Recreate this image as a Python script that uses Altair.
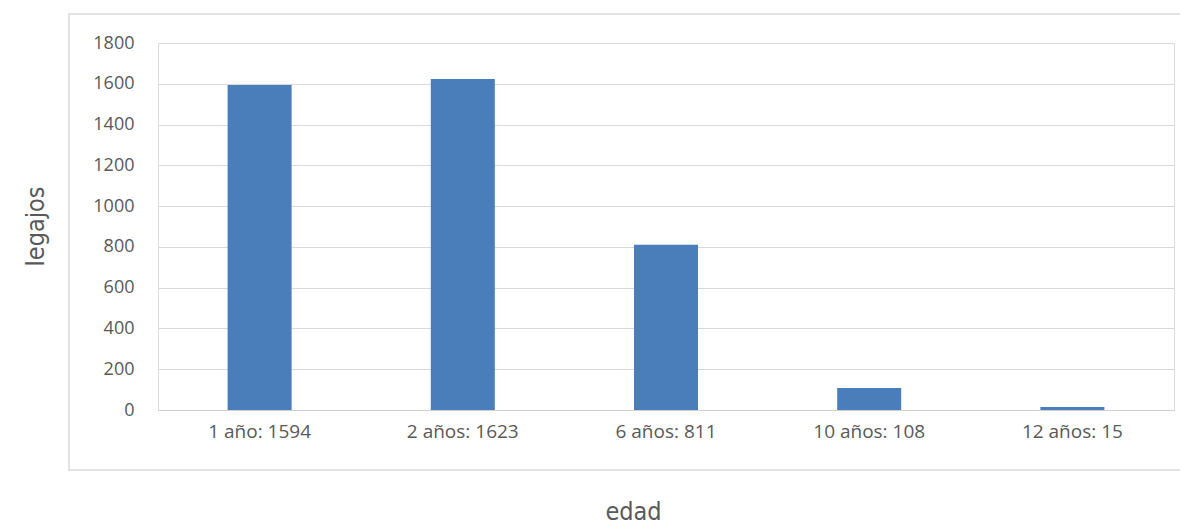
import altair as alt
import pandas as pd

categorias = ["1  año: 1594", "2 años: 1623", "6 años: 811", "10 años: 108", "12 años: 15"]
legajos = [1594, 1623, 811, 108, 15]

df = pd.DataFrame({"edad": categorias, "legajos": legajos})

W, H = 1016, 367
TFONT = "DejaVu Sans Condensed, Liberation Sans Narrow, Roboto, sans-serif"
LFONT = "Open Sans, Noto Sans, sans-serif"

frame = alt.Chart(pd.DataFrame({"k": [0]})).mark_rect(
    fill=None, stroke="#d9d9d9", strokeWidth=1.5
).encode(
    x=alt.value(-89), x2=alt.value(1040), y=alt.value(-29), y2=alt.value(427)
)

bars = alt.Chart(df).mark_bar(color="#4a7ebb").encode(
    x=alt.X("edad:N", sort=categorias,
            scale=alt.Scale(paddingInner=0.685, paddingOuter=0.3425),
            axis=alt.Axis(title="edad", labelAngle=0, labelFont=LFONT, labelFontSize=19,
                          labelColor="#595959", labelPadding=12, ticks=False,
                          domainColor="#d0d0d0", domainWidth=1.2,
                          titleFont=TFONT, titleFontSize=25, titleFontWeight="normal",
                          titleColor="#595959", titleX=475, titleY=101, titleAlign="center",
                          titleBaseline="middle")),
    y=alt.Y("legajos:Q", scale=alt.Scale(domain=[0, 1800]),
            axis=alt.Axis(title="legajos", values=list(range(0, 1801, 200)), format="d",
                          labelFont=LFONT, labelFontSize=18, labelColor="#595959",
                          labelPadding=24, ticks=False,
                          domain=False, gridColor="#d9d9d9", gridWidth=1,
                          titleFont=TFONT, titleFontSize=25, titleFontWeight="normal",
                          titleColor="#595959", titleX=-123, titleY=183, titleAlign="center",
                          titleBaseline="middle")),
)

chart = alt.layer(frame, bars).properties(
    width=W, height=H,
    autosize=alt.AutoSizeParams(type="none"),
    padding={"left": 150, "top": 35, "right": 6, "bottom": 114},
).configure_view(stroke=None).configure(background="white")

chart.save("out.html", embed_options={"renderer": "svg", "actions": False})
